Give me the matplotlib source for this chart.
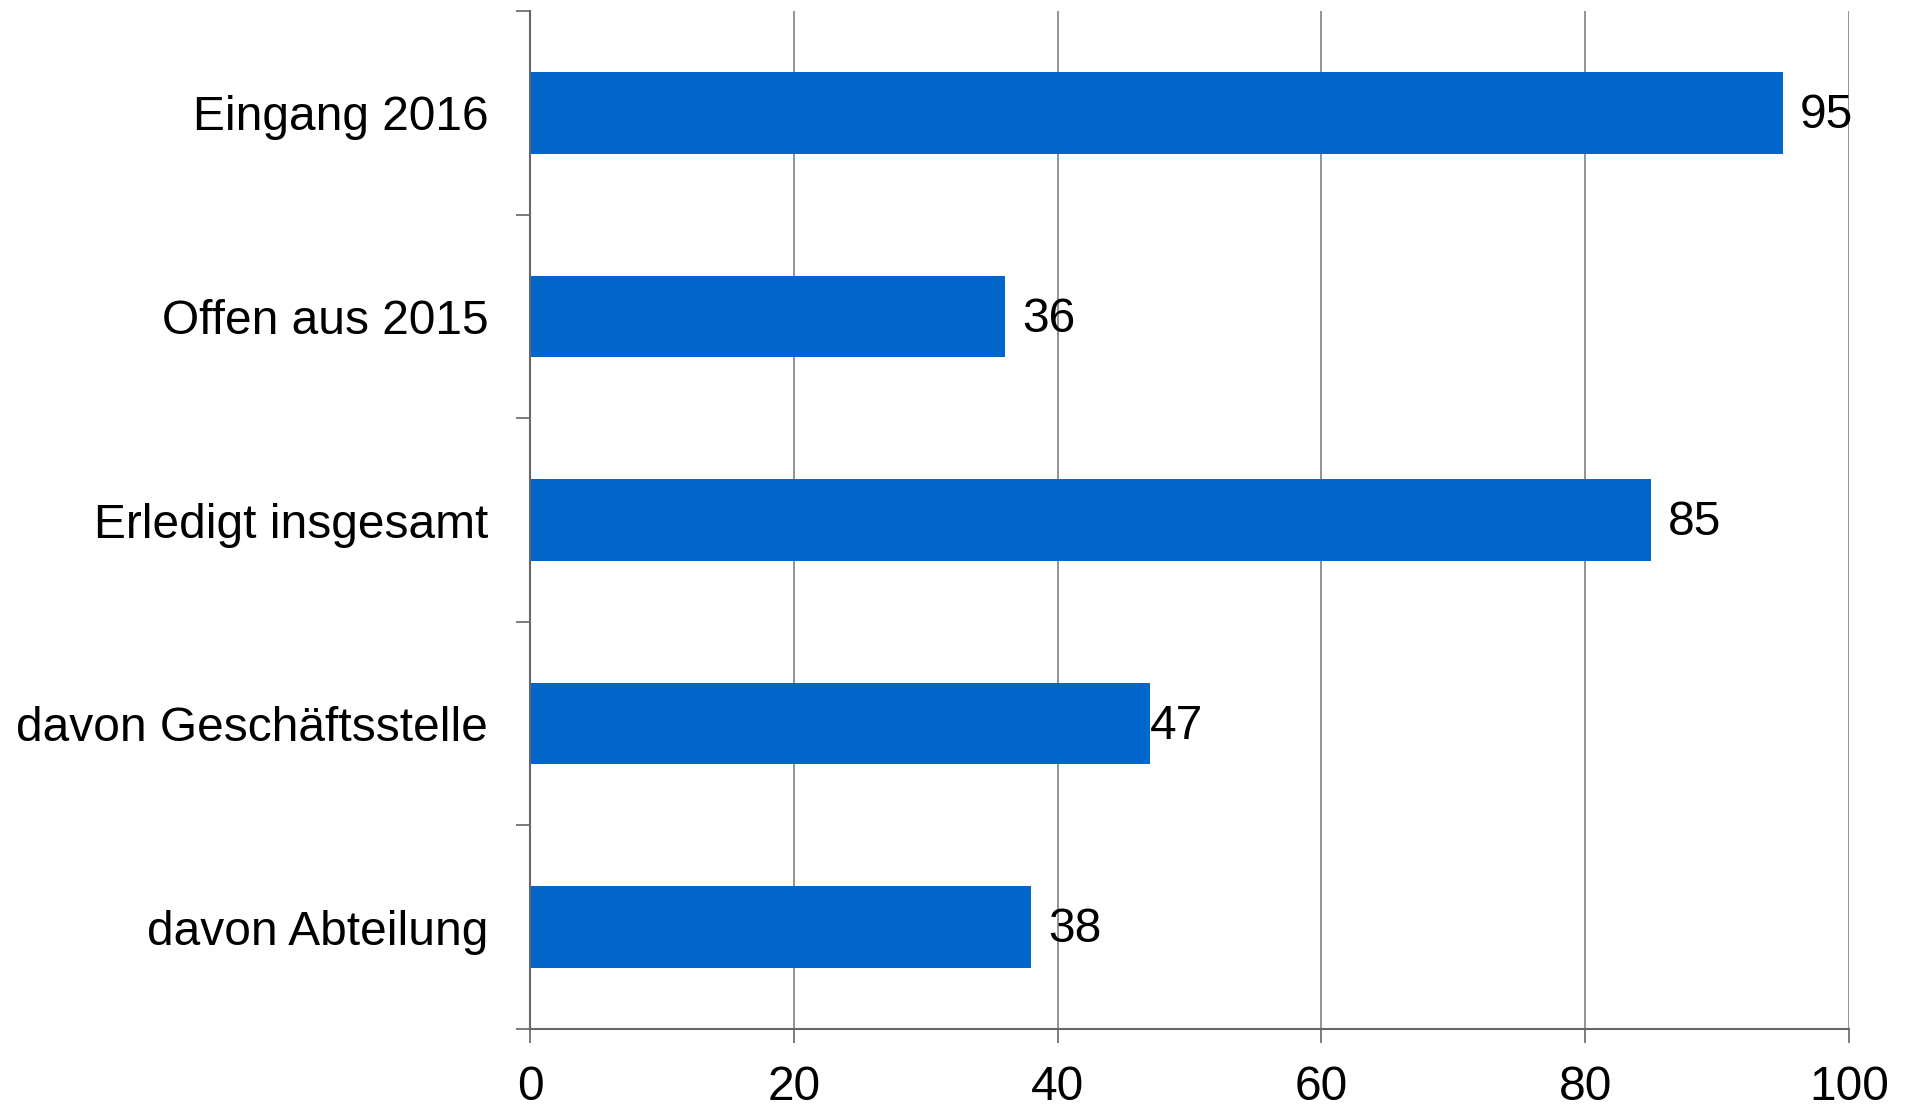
import matplotlib
matplotlib.use("Agg")
import matplotlib.pyplot as plt
import numpy as np

categories = ["Eingang 2016", "Offen aus 2015", "Erledigt insgesamt",
              "davon Geschäftsstelle", "davon Abteilung"]
values = [95, 36, 85, 47, 38]
x_ticks = [0, 20, 40, 60, 80, 100]
label_offsets_px = [17, 17, 17, 0, 17]

plt.rcParams['font.family'] = ['Liberation Sans', 'DejaVu Sans']
FS = 34.5

fig = plt.figure(figsize=(19.11, 11.08), dpi=100)
ax = fig.add_axes([530/1911, 79/1108, (1849-530)/1911, (1029-11)/1108])

y = np.arange(len(categories))
ax.barh(y, values, height=0.4, color="#0066CC", zorder=3)

ax.set_xlim(0, 100)
ax.set_ylim(len(categories) - 0.5, -0.5)
ax.set_xticks(x_ticks)
ax.set_xticklabels([str(t) for t in x_ticks], fontsize=FS)
ax.set_yticks(y)
ax.set_yticklabels(categories, fontsize=FS)
ax.set_yticks(np.arange(len(categories) + 1) - 0.5, minor=True)

ax.tick_params(axis='y', which='major', length=0, pad=30)
ax.tick_params(axis='y', which='minor', length=10, width=1.2, color="#666666", direction='out')
ax.tick_params(axis='x', which='major', length=10, width=1.2, color="#666666", pad=16)

ax.grid(axis='x', color="#808080", linewidth=1.2, zorder=0)
for s in ['top', 'right']:
    ax.spines[s].set_visible(False)
for s in ['left', 'bottom']:
    ax.spines[s].set_color("#666666")
    ax.spines[s].set_linewidth(1.5)
    ax.spines[s].set_zorder(4)

for yi, v, off in zip(y, values, label_offsets_px):
    ax.annotate(str(v), xy=(v, yi), xytext=(off * 0.72, -2), textcoords='offset points',
                ha='left', va='center', fontsize=FS, color='black', zorder=5)

fig.savefig("out.png", dpi=100)
